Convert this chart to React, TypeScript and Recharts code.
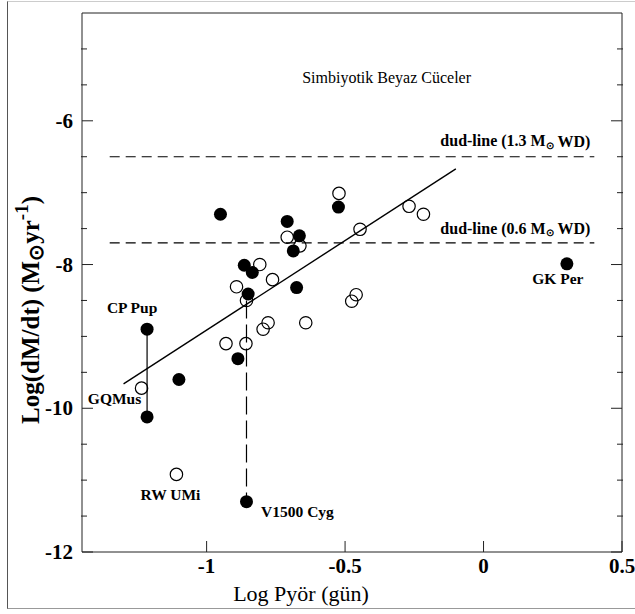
import { ScatterChart, Scatter, XAxis, YAxis, ReferenceLine } from "recharts"

const SERIF = '"Liberation Serif", "Times New Roman", Times, serif'

const X_DOMAIN = [-1.45, 0.5]
const Y_DOMAIN = [-12, -4.5]

const xMajorTicks = [-1, -0.5, 0, 0.5]
const xMinorTicks = [-1.4, -1.3, -1.2, -1.1, -0.9, -0.8, -0.7, -0.6, -0.4, -0.3, -0.2, -0.1, 0.1, 0.2, 0.3, 0.4]
const yMajorTicks = [-12, -10, -8, -6]
const yMinorTicks = [-11.5, -11, -10.5, -9.5, -9, -8.5, -7.5, -7, -6.5, -5.5, -5]

// filled symbols
const filledStars = [
  { x: -0.95, y: -7.3 },
  { x: -1.215, y: -8.9 },
  { x: -1.215, y: -10.12 },
  { x: -1.1, y: -9.6 },
  { x: -0.856, y: -11.3 },
  { x: -0.887, y: -9.31 },
  { x: -0.864, y: -8.01 },
  { x: -0.835, y: -8.11 },
  { x: -0.85, y: -8.41 },
  { x: -0.709, y: -7.4 },
  { x: -0.665, y: -7.6 },
  { x: -0.687, y: -7.81 },
  { x: -0.675, y: -8.32 },
  { x: -0.524, y: -7.2 },
  { x: 0.301, y: -7.99 },
]

// open symbols
const openStars = [
  { x: -1.235, y: -9.72 },
  { x: -1.109, y: -10.92 },
  { x: -0.93, y: -9.1 },
  { x: -0.858, y: -9.1 },
  { x: -0.796, y: -8.9 },
  { x: -0.778, y: -8.81 },
  { x: -0.642, y: -8.81 },
  { x: -0.892, y: -8.31 },
  { x: -0.856, y: -8.5 },
  { x: -0.808, y: -8.0 },
  { x: -0.762, y: -8.21 },
  { x: -0.709, y: -7.62 },
  { x: -0.663, y: -7.74 },
  { x: -0.522, y: -7.01 },
  { x: -0.446, y: -7.51 },
  { x: -0.476, y: -8.51 },
  { x: -0.46, y: -8.42 },
  { x: -0.269, y: -7.19 },
  { x: -0.217, y: -7.3 },
]

const starNames = [
  { name: "CP Pup", x: -1.215, y: -8.9 },
  { name: "GQMus", x: -1.235, y: -9.72 },
  { name: "RW UMi", x: -1.109, y: -10.92 },
  { name: "V1500 Cyg", x: -0.856, y: -11.3 },
  { name: "GK Per", x: 0.301, y: -7.99 },
]

const fitLine = [{ x: -1.3, y: -9.66 }, { x: -0.1, y: -6.67 }]
const dudRange = [-1.35, 0.4]
const dudHigh = -6.5
const dudLow = -7.7
const cpPupLink = [{ x: -1.215, y: -8.9 }, { x: -1.215, y: -10.12 }]
const v1500Link = [{ x: -0.856, y: -8.5 }, { x: -0.856, y: -11.3 }]
const titleAnchor = [{ name: "Simbiyotik Beyaz Cüceler", x: -0.35, y: -5.4 }]

const nameOffsets: Record<string, { dx: number; dy: number }> = {
  "CP Pup": { dx: -15, dy: -22 },
  GQMus: { dx: -27, dy: 10 },
  "RW UMi": { dx: -6, dy: 20 },
  "V1500 Cyg": { dx: 51, dy: 10 },
  "GK Per": { dx: -9, dy: 15 },
}

const AXIS = "#222"

const FilledDot = (props: any) => {
  const { cx, cy } = props
  if (cx == null || cy == null) return null
  return <circle cx={cx} cy={cy} r={6.5} fill="#000" />
}

const OpenDot = (props: any) => {
  const { cx, cy } = props
  if (cx == null || cy == null) return null
  return <circle cx={cx} cy={cy} r={6.2} fill="none" stroke="#000" strokeWidth={1.2} />
}

const StarName = (props: any) => {
  const { cx, cy, payload } = props
  if (cx == null || cy == null) return null
  const o = nameOffsets[payload.name]
  return (
    <text x={cx + o.dx} y={cy + o.dy} textAnchor="middle" dominantBaseline="central"
      fontFamily={SERIF} fontWeight="bold" fontSize={15.5} fill="#000">
      {payload.name}
    </text>
  )
}

const TitleText = (props: any) => {
  const { cx, cy, payload } = props
  if (cx == null || cy == null) return null
  return (
    <text x={cx} y={cy} textAnchor="middle" dominantBaseline="central" fontFamily={SERIF} fontSize={16} fill="#000">
      {payload.name}
    </text>
  )
}

// tick mark pointing into the plot, with optional label outside
const Tick = (props: any) => {
  const { x, y, payload, side, len, showLabel } = props
  let x2 = x
  let y2 = y
  if (side === "bottom") y2 = y - len
  if (side === "top") y2 = y + len
  if (side === "left") x2 = x + len
  if (side === "right") x2 = x - len
  const textProps = { fontFamily: SERIF, fontWeight: "bold", fontSize: 21, fill: "#000", dominantBaseline: "central" as const }
  return (
    <g>
      <line x1={x} y1={y} x2={x2} y2={y2} stroke={AXIS} strokeWidth={1} />
      {showLabel && side === "bottom" && (
        <text x={x} y={y + 14} textAnchor="middle" {...textProps}>{payload.value}</text>
      )}
      {showLabel && side === "left" && (
        <text x={x - 9} y={y} textAnchor="end" {...textProps}>{payload.value}</text>
      )}
    </g>
  )
}

const XTitle = (props: any) => {
  const vb = props.viewBox
  if (!vb) return null
  return (
    <text x={301} y={vb.y + 41} textAnchor="middle" dominantBaseline="central" fontFamily={SERIF} fontSize={22} fill="#000">
      Log Pyör (gün)
    </text>
  )
}

const YTitle = (props: any) => {
  const vb = props.viewBox
  if (!vb) return null
  const x = 30
  const y = 310
  return (
    <text x={x} y={y} transform={`rotate(-90 ${x} ${y})`} textAnchor="middle" dominantBaseline="central"
      fontFamily={SERIF} fontWeight="bold" fontSize={25} fill="#000">
      Log(dM/dt)  (M<tspan dy={6} fontSize={20}>⊙</tspan>
      <tspan dy={-6}>yr</tspan>
      <tspan dy={-9} fontSize={19}>-1</tspan>
      <tspan dy={9}>)</tspan>
    </text>
  )
}

const DudLabel = ({ viewBox, mass, dy }: any) => {
  if (!viewBox) return null
  const x = viewBox.x + viewBox.width - 4
  const y = viewBox.y + dy
  return (
    <text x={x} y={y} textAnchor="end" dominantBaseline="central" fontFamily={SERIF} fontWeight="bold" fontSize={16} fill="#000">
      dud-line ({mass} M<tspan dy={4} fontSize={10}>⊙</tspan>
      <tspan dy={-4}> WD)</tspan>
    </text>
  )
}

const axisCommon = { type: "number" as const, allowDataOverflow: true, interval: 0 as const, tickSize: 0, tickMargin: 0, tickLine: false }

export default function App() {
  return (
    <div style={{ position: "absolute", left: 0, top: 0, width: 635, height: 614, background: "#fff" }}>
      <div style={{
        position: "absolute", left: 7, top: 1, width: 628, height: 606,
        borderLeft: "1px solid #555", borderTop: "1px solid #ccc", borderBottom: "1px solid #999",
      }} />
      <div style={{ position: "absolute", left: 0, top: 0 }}>
        <ScatterChart width={635} height={614} margin={{ top: 11, right: 11, bottom: 60, left: 80 }}>
          <XAxis xAxisId="b" dataKey="x" domain={X_DOMAIN} ticks={xMajorTicks} height={1} {...axisCommon}
            tick={<Tick side="bottom" len={11} showLabel />} axisLine={{ stroke: AXIS }} label={{ content: <XTitle /> }} />
          <XAxis xAxisId="bm" domain={X_DOMAIN} ticks={xMinorTicks} height={1} {...axisCommon}
            tick={<Tick side="bottom" len={6} />} axisLine={false} />
          <XAxis xAxisId="t" orientation="top" domain={X_DOMAIN} ticks={xMajorTicks} height={1} {...axisCommon}
            tick={<Tick side="top" len={11} />} axisLine={{ stroke: AXIS }} />
          <XAxis xAxisId="tm" orientation="top" domain={X_DOMAIN} ticks={xMinorTicks} height={1} {...axisCommon}
            tick={<Tick side="top" len={6} />} axisLine={false} />
          <YAxis yAxisId="l" dataKey="y" domain={Y_DOMAIN} ticks={yMajorTicks} width={1} {...axisCommon}
            tick={<Tick side="left" len={11} showLabel />} axisLine={{ stroke: AXIS }} label={{ content: <YTitle /> }} />
          <YAxis yAxisId="lm" domain={Y_DOMAIN} ticks={yMinorTicks} width={1} {...axisCommon}
            tick={<Tick side="left" len={6} />} axisLine={false} />
          <YAxis yAxisId="r" orientation="right" domain={Y_DOMAIN} ticks={yMajorTicks} width={1} {...axisCommon}
            tick={<Tick side="right" len={11} />} axisLine={{ stroke: AXIS }} />
          <YAxis yAxisId="rm" orientation="right" domain={Y_DOMAIN} ticks={yMinorTicks} width={1} {...axisCommon}
            tick={<Tick side="right" len={6} />} axisLine={false} />

          <ReferenceLine xAxisId="b" yAxisId="l" segment={[{ x: dudRange[0], y: dudHigh }, { x: dudRange[1], y: dudHigh }]}
            stroke="#000" strokeWidth={1.2} strokeDasharray="10 6"
            label={<DudLabel mass="1.3" dy={-16} />} />
          <ReferenceLine xAxisId="b" yAxisId="l" segment={[{ x: dudRange[0], y: dudLow }, { x: dudRange[1], y: dudLow }]}
            stroke="#000" strokeWidth={1.2} strokeDasharray="10 6"
            label={<DudLabel mass="0.6" dy={-14.5} />} />
          <ReferenceLine xAxisId="b" yAxisId="l" segment={fitLine} stroke="#000" strokeWidth={1.4} />
          <ReferenceLine xAxisId="b" yAxisId="l" segment={cpPupLink} stroke="#000" strokeWidth={1.2} />
          <ReferenceLine xAxisId="b" yAxisId="l" segment={v1500Link} stroke="#000" strokeWidth={1.2} strokeDasharray="18 6" />

          <Scatter xAxisId="b" yAxisId="l" data={openStars} shape={<OpenDot />} isAnimationActive={false} />
          <Scatter xAxisId="b" yAxisId="l" data={filledStars} shape={<FilledDot />} isAnimationActive={false} />
          <Scatter xAxisId="b" yAxisId="l" data={starNames} shape={<StarName />} isAnimationActive={false} />
          <Scatter xAxisId="b" yAxisId="l" data={titleAnchor} shape={<TitleText />} isAnimationActive={false} />
        </ScatterChart>
      </div>
    </div>
  )
}
